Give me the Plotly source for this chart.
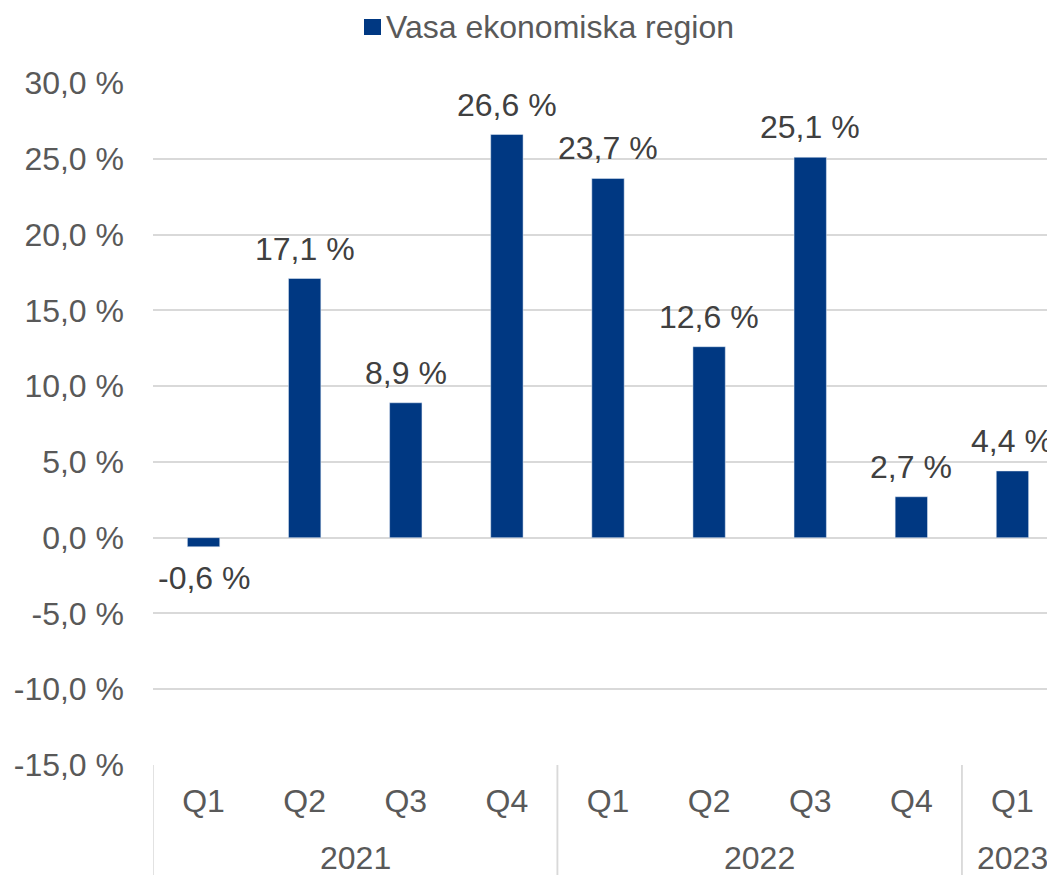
import plotly.graph_objects as go

quarters = ["Q1", "Q2", "Q3", "Q4", "Q1", "Q2", "Q3", "Q4", "Q1"]
years = ["2021", "2021", "2021", "2021", "2022", "2022", "2022", "2022", "2023"]
values = [-0.6, 17.1, 8.9, 26.6, 23.7, 12.6, 25.1, 2.7, 4.4]
y_ticks = [-15, -10, -5, 0, 5, 10, 15, 20, 25, 30]
y_tick_text = ["-15,0 %", "-10,0 %", "-5,0 %", "0,0 %", "5,0 %", "10,0 %",
               "15,0 %", "20,0 %", "25,0 %", "30,0 %"]
series_name = "Vasa ekonomiska region"

FONT = "Liberation Sans, Arial, sans-serif"
TXT = "#595959"
LBL = "#404040"
GRID = "#d9d9d9"
BAR = "#003882"
FS = 32

W, H = 1055, 875
OFF = 8  # page body margin offset
L, R, T, B = 145, 0, 75, 118
PW, PH = W - L - R, H - T - B

x = list(range(len(values)))
labels = [f"{v:.1f}".replace(".", ",") + " %" for v in values]

fig = go.Figure()
fig.add_trace(go.Bar(
    x=x, y=values, name=series_name, marker_color=BAR, width=0.32,
    showlegend=False,
))

annotations = []
shapes = []

# data labels
for xi, v, t in zip(x, values, labels):
    annotations.append(dict(x=xi, y=v, xref="x", yref="y", text=t, showarrow=False,
                            yanchor="middle", yshift=30 if v >= 0 else -31,
                            font=dict(family=FONT, size=FS, color=LBL)))

# year groups
groups = []
for i, yr in enumerate(years):
    if not groups or groups[-1][0] != yr:
        groups.append([yr, i, i])
    else:
        groups[-1][2] = i

bottom_frac = 115 / PH
for yr, a, b in groups:
    annotations.append(dict(x=(a + b) / 2, y=0, xref="x", yref="paper",
                            text=yr, showarrow=False, yanchor="middle",
                            yshift=-93, font=dict(family=FONT, size=FS, color=TXT)))
    for edge in (a - 0.5, b + 0.5):
        shapes.append(dict(type="line", xref="x", yref="paper", x0=edge, x1=edge,
                           y0=0, y1=-bottom_frac, line=dict(color=GRID, width=1.5)))

# manual legend (screen pixel positions converted to paper coords)
def px_x(p):
    return (p - OFF - L) / PW

def px_y(p):
    return (H - B - (p - OFF)) / PH

shapes.append(dict(type="rect", xref="paper", yref="paper",
                   x0=px_x(364), x1=px_x(381), y0=px_y(35), y1=px_y(19),
                   fillcolor=BAR, line=dict(width=0)))
annotations.append(dict(x=px_x(384), y=px_y(27), xref="paper", yref="paper",
                        text=series_name, showarrow=False, xanchor="left",
                        yanchor="middle", font=dict(family=FONT, size=FS, color=TXT)))

fig.update_layout(
    width=W, height=H,
    margin=dict(l=L, r=R, t=T, b=B, autoexpand=False),
    plot_bgcolor="white", paper_bgcolor="white",
    font=dict(family=FONT, size=FS, color=TXT),
    showlegend=False,
    annotations=annotations,
    shapes=shapes,
)
fig.update_xaxes(
    range=[-0.5, len(values) - 0.5], tickvals=x, ticktext=quarters,
    showgrid=False, zeroline=False, showline=False, ticks="", automargin=False,
    ticklabelstandoff=14, tickfont=dict(family=FONT, size=FS, color=TXT),
)
fig.update_yaxes(
    range=[-15, 30], tickvals=y_ticks, ticktext=y_tick_text,
    showgrid=True, gridcolor=GRID, gridwidth=1.5, zeroline=True,
    zerolinecolor=GRID, zerolinewidth=1.5, showline=False, ticks="", automargin=False,
    ticklabelstandoff=28, tickfont=dict(family=FONT, size=FS, color=TXT),
)

fig.write_html("out.html")
